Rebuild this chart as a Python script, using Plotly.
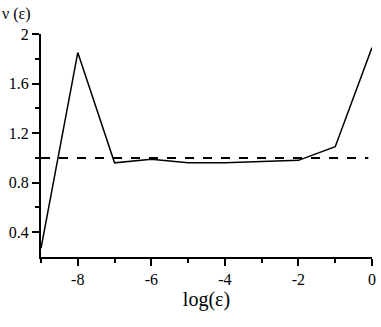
import plotly.graph_objects as go

log_eps = [-9, -8, -7, -6, -5, -4, -3, -2, -1, 0]
nu = [0.27, 1.85, 0.96, 0.99, 0.96, 0.96, 0.97, 0.98, 1.09, 1.89]
ref_x = [-9, -0.1]
ref_y = [1.0, 1.0]
x_ticks = [-8, -6, -4, -2, 0]
x_tick_labels = ["-8", "-6", "-4", "-2", "0"]
y_ticks = [0.4, 0.8, 1.2, 1.6, 2.0]
y_tick_labels = ["0.4", "0.8", "1.2", "1.6", "2"]

font = "Liberation Serif, Times New Roman, serif"

fig = go.Figure()
fig.add_trace(go.Scatter(x=ref_x, y=ref_y, mode="lines",
                         line=dict(color="black", width=2, dash="dash")))
fig.add_trace(go.Scatter(x=log_eps, y=nu, mode="lines",
                         line=dict(color="black", width=1.5)))

fig.update_layout(
    width=381, height=327,
    margin=dict(l=41, r=5, t=34, b=70),
    plot_bgcolor="white", paper_bgcolor="white",
    showlegend=False,
    font=dict(family=font, size=16, color="black"),
    xaxis=dict(range=[-9, 0], showline=True, linecolor="black", linewidth=2,
               showgrid=False, zeroline=False,
               tickmode="array", tickvals=x_ticks, ticktext=x_tick_labels,
               ticks="outside", ticklen=7, tickwidth=2, tickcolor="black",
               minor=dict(tickvals=[-9, -7, -5, -3, -1], ticks="outside",
                          ticklen=4, tickwidth=1.5, tickcolor="black"),
               title=dict(text="log(ε)", font=dict(size=20), standoff=4)),
    yaxis=dict(range=[0.2, 2.0], showline=True, linecolor="black", linewidth=2,
               showgrid=False, zeroline=False,
               tickmode="array", tickvals=y_ticks, ticktext=y_tick_labels,
               ticks="outside", ticklen=7, tickwidth=2, tickcolor="black",
               minor=dict(tickvals=[0.6, 1.0, 1.4, 1.8], ticks="outside",
                          ticklen=4, tickwidth=1.5, tickcolor="black")),
)
fig.add_annotation(text="ν (ε)", x=0, y=1, xref="paper", yref="paper",
                   xanchor="left", yanchor="bottom", showarrow=False,
                   xshift=-41, yshift=9, font=dict(size=16))

fig.write_html("out.html", config={"displayModeBar": False},
               post_script="document.body.style.margin='0';")
